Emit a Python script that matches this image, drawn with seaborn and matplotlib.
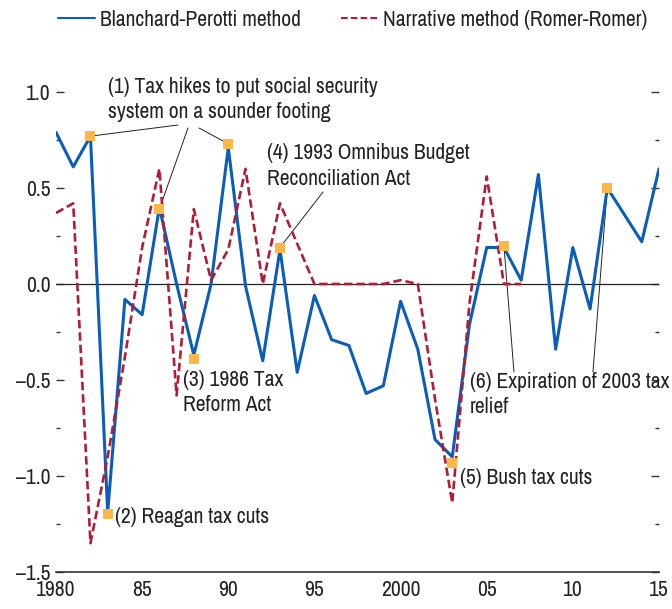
import pandas as pd
import seaborn as sns
import matplotlib.pyplot as plt
import numpy as np

# values
years_bp = list(range(1980, 2016))
blanchard_perotti = [0.79, 0.61, 0.77, -1.19, -0.08, -0.16, 0.40, 0.00, -0.37, 0.00,
                     0.71, -0.01, -0.40, 0.18, -0.46, -0.06, -0.29, -0.32, -0.57, -0.53,
                     -0.09, -0.34, -0.81, -0.90, -0.21, 0.19, 0.19, 0.02, 0.57, -0.34,
                     0.19, -0.13, 0.50, 0.36, 0.22, 0.60]
years_narr = list(range(1980, 2008))
narrative = [0.37, 0.42, -1.35, -0.90, -0.38, 0.19, 0.60, -0.58, 0.39, 0.02,
             0.18, 0.60, 0.00, 0.42, 0.21, 0.00, 0.00, 0.00, 0.00, 0.00,
             0.02, 0.00, -0.60, -1.14, -0.10, 0.56, 0.00, 0.00]
mark_years = [1982, 1983, 1986, 1988, 1990, 1993, 2003, 2006, 2012]
mark_vals = [0.77, -1.20, 0.39, -0.39, 0.73, 0.19, -0.93, 0.20, 0.50]

x_ticks = [1980, 1985, 1990, 1995, 2000, 2005, 2010, 2015]
x_labels = ["1980", "85", "90", "95", "2000", "05", "10", "15"]
y_ticks = [-1.5, -1.0, -0.5, 0.0, 0.5, 1.0]
y_labels = ["\u20131.5", "\u20131.0", "\u20130.5", "0.0", "0.5", "1.0"]

bp_name = "Blanchard-Perotti method"
narr_name = "Narrative method (Romer-Romer)"

df = pd.concat([
    pd.DataFrame({"year": years_bp, "value": blanchard_perotti, "method": bp_name}),
    pd.DataFrame({"year": years_narr, "value": narrative, "method": narr_name}),
])

sns.set_theme(style="white")
plt.rcParams['font.family'] = ['Archivo Narrow', 'DejaVu Sans']
fs = 15.5
txt = "#222222"

fig = plt.figure(figsize=(6.72, 6.09), dpi=100)
ax = fig.add_axes([56/672, 37/609, 603/672, 480/609])

ax.axhline(0, color="#222222", lw=0.9, zorder=1)
sns.lineplot(data=df, x="year", y="value", hue="method", style="method",
             palette={bp_name: "#0B5DBA", narr_name: "#B01E36"},
             dashes={bp_name: "", narr_name: (3.2, 1.5)},
             hue_order=[bp_name, narr_name], style_order=[bp_name, narr_name],
             ax=ax, zorder=3)
for ln, lw in zip(ax.lines[1:], [2.2, 1.9]):
    ln.set_linewidth(lw)

sns.scatterplot(x=mark_years, y=mark_vals, marker="s", s=60, color="#FBB848",
                linewidth=0, ax=ax, zorder=4, legend=False)

ax.set_xlim(1980, 2015)
ax.set_ylim(-1.5, 1.0)
ax.set_xticks(x_ticks, x_labels)
ax.set_xticks(range(1980, 2016), minor=True)
ax.set_yticks(y_ticks, y_labels)
ax.set_yticks(np.arange(-1.25, 1.0, 0.5), minor=True)
ax.set_xlabel("")
ax.set_ylabel("")
for s in ["left", "right", "top"]:
    ax.spines[s].set_visible(False)
ax.spines["bottom"].set_color("#333333")
ax.spines["bottom"].set_linewidth(1.2)
ax.tick_params(axis="x", which="both", direction="in", length=7, width=1, color="#333333",
               labelsize=fs, labelcolor=txt, pad=6)
ax.tick_params(axis="y", which="major", direction="in", length=6, width=1, color="#333333",
               left=True, right=True, labelsize=fs, labelcolor=txt, pad=4)
ax.tick_params(axis="y", which="minor", direction="in", length=3, width=1, color="#333333",
               left=True, right=True)

leg = ax.legend(loc="center left", bbox_to_anchor=(58/672, 1 - 20/609),
                bbox_transform=fig.transFigure, ncol=2, frameon=False, fontsize=fs,
                handlelength=1.72, handletextpad=0.23, columnspacing=1.86,
                borderpad=0, borderaxespad=0)
for t in leg.get_texts():
    t.set_color(txt)

def to_data(px, py):
    return 1980 + (px - 56) / 17.23, (284 - py) / 192

notes = [
    ("(1) Tax hikes to put social security\nsystem on a sounder footing", 108, 99.5),
    ("(2) Reagan tax cuts", 115, 517),
    ("(3) 1986 Tax\nReform Act", 183, 392.5),
    ("(4) 1993 Omnibus Budget\nReconciliation Act", 267, 166),
    ("(5) Bush tax cuts", 460, 478),
    ("(6) Expiration of 2003 tax\nrelief", 470, 394.5),
]
for label, px, py in notes:
    xx, yy = to_data(px, py)
    ax.text(xx, yy, label, fontsize=fs, color=txt, ha="left", va="center",
            linespacing=1.35, clip_on=False, zorder=5)

leaders = [((178, 125), 0), ((188, 128), 2), ((199, 128), 4),
           ((323, 192), 5), ((514, 372), 7), ((593, 372), 8)]
for (px, py), i in leaders:
    ax.annotate("", xy=(mark_years[i], mark_vals[i]), xytext=to_data(px, py),
                arrowprops=dict(arrowstyle="-", color="#222222", lw=0.7,
                                shrinkA=0, shrinkB=3),
                annotation_clip=False, zorder=2)

plt.savefig("out.png", dpi=100)
